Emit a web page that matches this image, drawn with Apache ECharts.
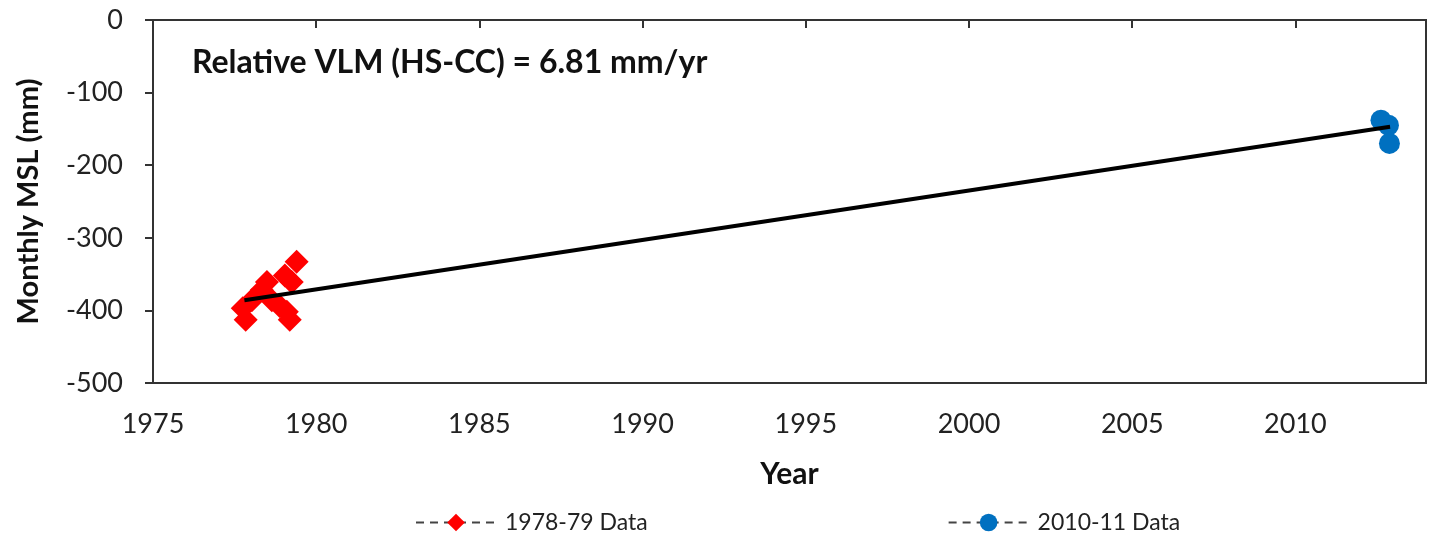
<!DOCTYPE html>
<html>
<head>
<meta charset="utf-8">
<script src="https://cdn.jsdelivr.net/npm/echarts@6/dist/echarts.min.js"></script>
<style>
html,body{margin:0;padding:0;background:#fff;}
#chart{width:1435px;height:536px;}
</style>
</head>
<body>
<div id="chart"></div>
<script>
// 1978-79 monthly MSL (year, mm)
const data7879 = [
  [1977.84, -413], [1977.75, -397], [1978.03, -386], [1978.33, -372],
  [1978.49, -361], [1978.64, -386], [1978.88, -394], [1979.04, -352],
  [1979.19, -413], [1979.25, -361], [1979.40, -333], [1979.10, -402]
];
// 2010-11 monthly MSL (year, mm)
const data1011 = [[2012.62, -138], [2012.85, -145], [2012.88, -170]];
// Trend line endpoints (year, mm)
const trend = [[1977.8, -386], [2012.9, -147]];
const xTicks = [1975, 1980, 1985, 1990, 1995, 2000, 2005, 2010];
const seriesNames = ['1978-79 Data', '2010-11 Data'];
const annotation = 'Relative VLM (HS-CC) = 6.81 mm/yr';

const FONT = 'Lato';
const chart = echarts.init(document.getElementById('chart'));
chart.setOption({
  animation: false,
  backgroundColor: '#fff',
  textStyle: { fontFamily: FONT },
  grid: { left: 153, right: 9, top: 20, bottom: 153, show: true, borderColor: '#333', borderWidth: 2 },
  title: {
    text: annotation, left: 187, top: 42,
    textStyle: { fontFamily: FONT, fontWeight: 'bold', fontSize: 32, color: '#111' }
  },
  legend: {
    data: seriesNames, top: 506, left: 410, itemGap: 300,
    itemWidth: 80, itemHeight: 22,
    textStyle: { fontFamily: FONT, fontSize: 23, color: '#222', padding: [0, 0, 0, 4] },
    lineStyle: { color: '#444', width: 2, type: [8, 6], opacity: 1 }
  },
  xAxis: {
    type: 'value', min: 1975, max: 2014, interval: 5,
    name: 'Year', nameLocation: 'middle', nameGap: 76,
    nameTextStyle: { fontFamily: FONT, fontWeight: 'bold', fontSize: 30, color: '#111', verticalAlign: 'top' },
    axisLine: { lineStyle: { color: '#333', width: 2 } },
    axisTick: { show: true, length: 8, inside: false, customValues: xTicks, lineStyle: { color: '#333', width: 2 } },
    axisLabel: { customValues: xTicks, margin: 28, fontFamily: FONT, fontSize: 27, color: '#222',
      formatter: function (v) { return String(v); } },
    splitLine: { show: false }
  },
  yAxis: {
    type: 'value', min: -500, max: 0, interval: 100,
    name: 'Monthly MSL (mm)', nameLocation: 'middle', nameGap: 110, nameRotate: 90,
    nameTextStyle: { fontFamily: FONT, fontWeight: 'bold', fontSize: 29, color: '#111' },
    axisLine: { show: true, lineStyle: { color: '#333', width: 2 } },
    axisTick: { show: true, length: 8, lineStyle: { color: '#333', width: 2 } },
    axisLabel: { margin: 30, fontFamily: FONT, fontSize: 27, color: '#222' },
    splitLine: { show: false }
  },
  series: [
    {
      name: seriesNames[0], type: 'line', data: data7879,
      symbol: 'diamond', symbolSize: [24, 24], showSymbol: true,
      itemStyle: { color: '#ff0000' },
      lineStyle: { width: 0, opacity: 0 }, z: 2
    },
    {
      name: seriesNames[1], type: 'line', data: data1011,
      symbol: 'circle', symbolSize: 21, showSymbol: true,
      itemStyle: { color: '#0070c0' },
      lineStyle: { width: 0, opacity: 0 }, z: 2
    },
    {
      name: 'trend', type: 'line', data: trend, symbol: 'none',
      lineStyle: { color: '#000', width: 4 }, z: 5
    }
  ]
});
</script>
</body>
</html>
